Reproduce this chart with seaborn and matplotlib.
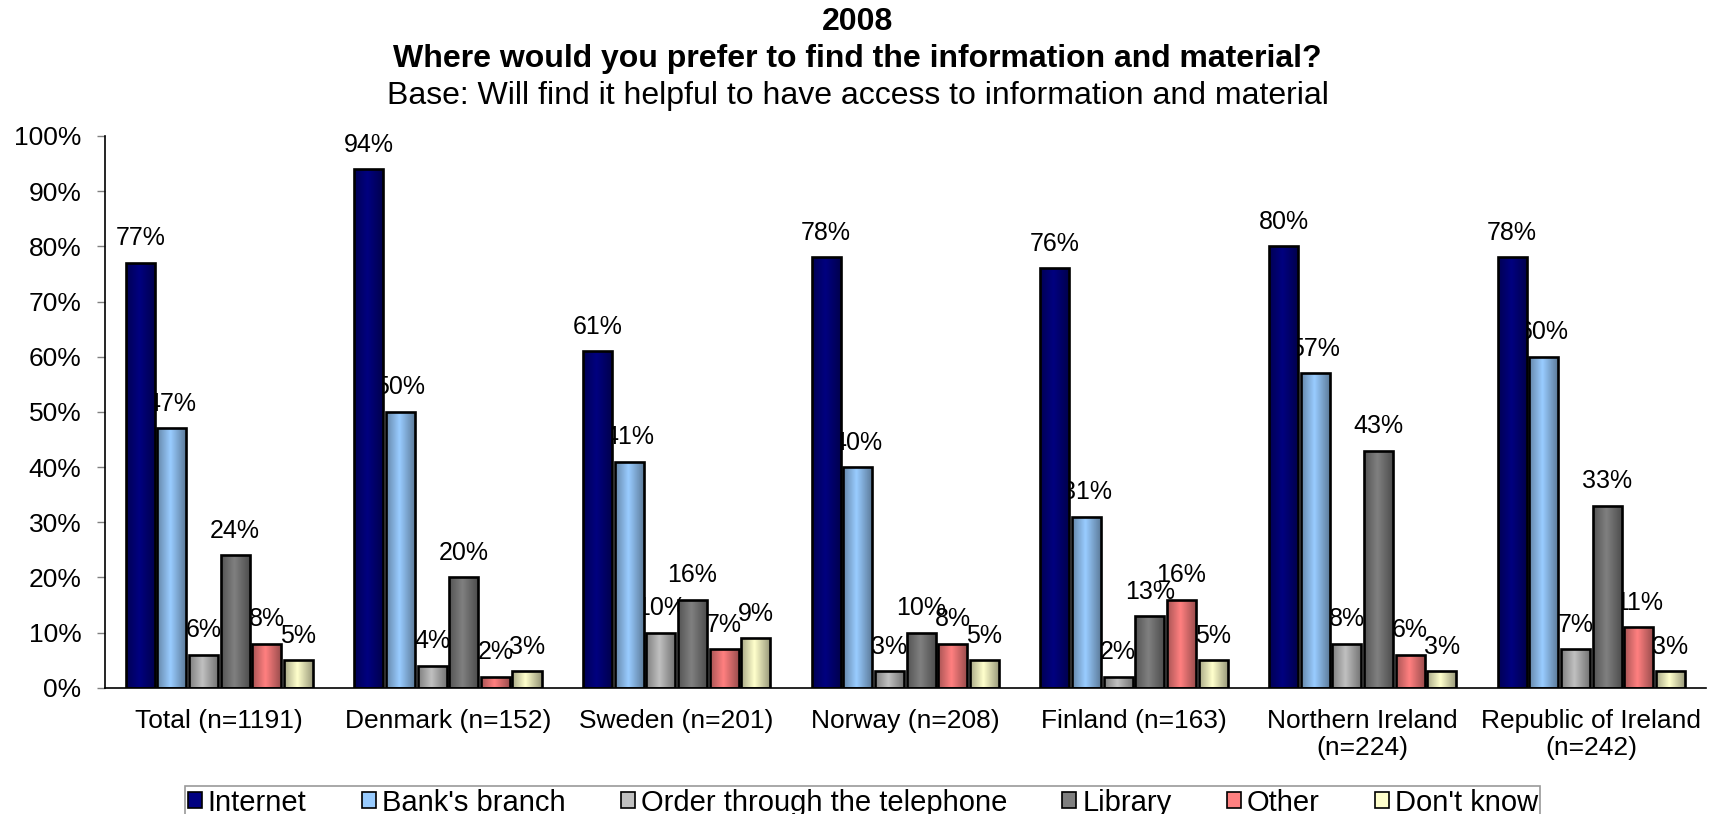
import numpy as np
import pandas as pd
import seaborn as sns
import matplotlib.pyplot as plt
from matplotlib.patches import Rectangle

sns.set_theme(style="white")
plt.rcParams["font.family"] = ["Liberation Sans", "DejaVu Sans"]
for key in ["text.color", "axes.labelcolor", "xtick.color", "ytick.color"]:
    plt.rcParams[key] = "black"

categories = ["Total (n=1191)", "Denmark (n=152)", "Sweden (n=201)", "Norway (n=208)",
              "Finland (n=163)", "Northern Ireland\n(n=224)", "Republic of Ireland\n(n=242)"]
series = ["Internet", "Bank's branch", "Order through the telephone", "Library", "Other", "Don't know"]
internet = [77, 94, 61, 78, 76, 80, 78]
bank_branch = [47, 50, 41, 40, 31, 57, 60]
telephone = [6, 4, 10, 3, 2, 8, 7]
library = [24, 20, 16, 10, 13, 43, 33]
other = [8, 2, 7, 8, 16, 6, 11]
dont_know = [5, 3, 9, 5, 5, 3, 3]
colors = ["#000080", "#99CCFF", "#C0C0C0", "#808080", "#FF8080", "#FFFFCC"]

values = [internet, bank_branch, telephone, library, other, dont_know]
df = pd.DataFrame({
    "category": np.tile(categories, len(series)),
    "series": np.repeat(series, len(categories)),
    "value": np.concatenate(values),
})

fig = plt.figure(figsize=(17.12, 8.14), dpi=100)
ax = fig.add_axes([0.0613, 0.155, 0.935, 0.678])

sns.barplot(data=df, x="category", y="value", hue="series", order=categories,
            hue_order=series, palette=colors, ax=ax, width=0.83, gap=0.08,
            edgecolor="black", linewidth=1.9, legend=False, saturation=1, zorder=2)

# horizontal shading on each bar: darker edges, lighter centre
grad = np.linspace(0, 1, 64)
shade = 0.42 * np.abs(grad - 0.45) / 0.55
rgba = np.zeros((1, 64, 4))
rgba[..., 3] = shade
for bar in ax.patches:
    x0, y0 = bar.get_x(), bar.get_y()
    w, h = bar.get_width(), bar.get_height()
    if h <= 0:
        continue
    im = ax.imshow(rgba, extent=[x0, x0 + w, y0, y0 + h], aspect="auto",
                   interpolation="bilinear", zorder=2.1)
    im.set_clip_path(bar)

# value labels sit behind the bars, so a tall neighbour can hide part of a label
for cont, vals in zip(ax.containers, values):
    txts = ax.bar_label(cont, labels=[f"{v}%" for v in vals], padding=9, fontsize=18)
    for t in txts:
        t.set_zorder(1.5)

ax.set_xlim(-0.5, len(categories) - 0.5)
ax.set_ylim(0, 100)
ax.set_yticks(range(0, 101, 10))
ax.set_yticklabels([f"{t}%" for t in range(0, 101, 10)], fontsize=19)
ax.tick_params(axis="y", direction="out", length=6, width=1, color="#808080", pad=11, left=True)
ax.tick_params(axis="x", labelsize=19, length=0, pad=15)
ax.set_xlabel("")
ax.set_ylabel("")
for side in ["top", "right"]:
    ax.spines[side].set_visible(False)
for side in ["left", "bottom"]:
    ax.spines[side].set_color("black")
    ax.spines[side].set_linewidth(1.2)
    ax.spines[side].set_zorder(3)

fig.text(0.501, 0.973, "2008", ha="center", va="center", fontsize=23, fontweight="bold")
fig.text(0.501, 0.928, "Where would you prefer to find the information and material?",
         ha="center", va="center", fontsize=23, fontweight="bold")
fig.text(0.501, 0.882, "Base: Will find it helpful to have access to information and material",
         ha="center", va="center", fontsize=23)

handles = [Rectangle((0, 0), 1, 1, facecolor=c, edgecolor="black", linewidth=1.2) for c in colors]
leg = fig.legend(handles, series, loc="upper center", bbox_to_anchor=(0.504, 0.034), ncol=6,
                 fontsize=21, frameon=True, fancybox=False, edgecolor="#808080",
                 handlelength=0.48, handleheight=0.48, handletextpad=0.2, columnspacing=1.9,
                 borderpad=0.08, borderaxespad=0)
leg.get_frame().set_linewidth(1.2)

fig.savefig("out.png", dpi=100)
